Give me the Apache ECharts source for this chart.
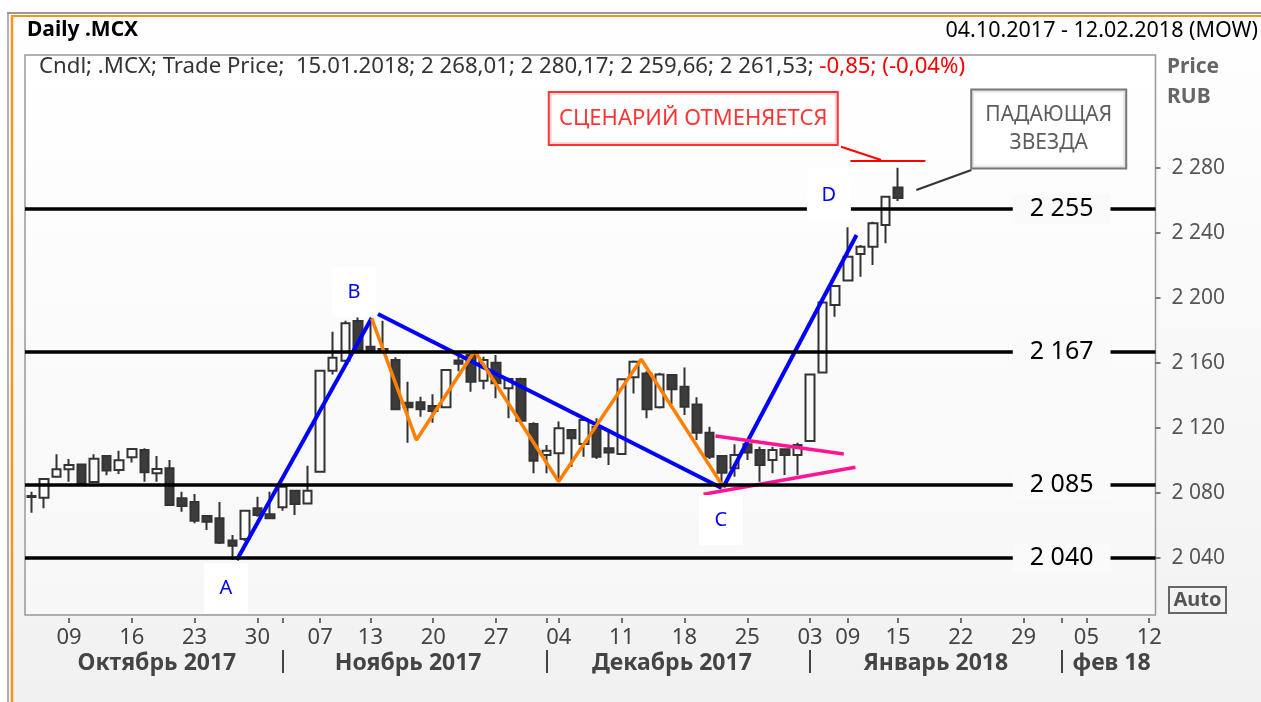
<!DOCTYPE html>
<html>
<head>
<meta charset="utf-8">
<title>Daily .MCX</title>
<script src="https://cdn.jsdelivr.net/npm/echarts@6/dist/echarts.min.js"></script>
<style>
  html, body { margin: 0; padding: 0; background: #fff; }
  #chart { width: 1261px; height: 702px; }
</style>
</head>
<body>
<div id="chart"></div>
<script>
// trading days, 04.10.2017 - 12.02.2018
const octDays = [4, 5, 6, 9, 10, 11, 12, 13, 16, 17, 18, 19, 20, 23, 24, 25, 26, 27, 30, 31];
const novDays = [1, 2, 3, 7, 8, 9, 10, 13, 14, 15, 16, 17, 20, 21, 22, 23, 24, 27, 28, 29, 30];
const decDays = [1, 4, 5, 6, 7, 8, 11, 12, 13, 14, 15, 18, 19, 20, 21, 22, 25, 26, 27, 28, 29];
const janDays = [3, 4, 5, 9, 10, 11, 12, 15, 16, 17, 18, 19, 22, 23, 24, 25, 26, 29, 30, 31];
const febDays = [1, 2, 5, 6, 7, 8, 9, 12];

const pad = d => (d < 10 ? '0' : '') + d;
const categories = [];
[[octDays, '10'], [novDays, '11'], [decDays, '12'], [janDays, '01'], [febDays, '02']]
  .forEach(([days, m]) => days.forEach(d => categories.push(pad(d) + '.' + m)));

// open, close, low, high
const candles = [
  [2078.2, 2077.6, 2067.9, 2080.8], [2077.1, 2088.6, 2070.6, 2089.0], [2090.0, 2094.6, 2089.5, 2103.8],
  [2094.6, 2097.2, 2087.0, 2100.9], [2097.6, 2086.0, 2084.3, 2098.0], [2086.8, 2101.1, 2086.2, 2103.8],
  [2102.8, 2093.8, 2090.9, 2103.2], [2094.2, 2100.2, 2091.7, 2106.0], [2102.0, 2107.1, 2098.7, 2107.5],
  [2106.5, 2092.7, 2087.0, 2107.5], [2092.1, 2094.8, 2087.0, 2102.8], [2095.2, 2072.6, 2072.0, 2100.3],
  [2076.7, 2072.0, 2068.5, 2080.8], [2074.5, 2063.0, 2061.4, 2079.4], [2065.8, 2062.3, 2057.2, 2066.4],
  [2064.4, 2049.4, 2048.6, 2074.5], [2050.7, 2047.6, 2038.8, 2054.2], [2051.7, 2069.1, 2050.5, 2069.5],
  [2070.6, 2066.5, 2065.4, 2077.7], [2066.9, 2064.4, 2064.0, 2080.8], [2071.2, 2083.9, 2069.1, 2085.6],
  [2081.4, 2073.2, 2066.5, 2082.0], [2073.6, 2081.4, 2073.0, 2096.8], [2093.1, 2155.3, 2092.5, 2155.8],
  [2155.3, 2163.3, 2153.0, 2179.3], [2161.4, 2184.4, 2160.5, 2186.0], [2185.8, 2168.0, 2167.5, 2188.0],
  [2170.0, 2168.0, 2167.5, 2187.5], [2168.6, 2167.8, 2167.0, 2186.0], [2161.8, 2131.5, 2131.0, 2163.5],
  [2135.6, 2132.7, 2111.0, 2148.5], [2135.8, 2131.5, 2127.0, 2139.3], [2133.5, 2130.5, 2123.3, 2140.7],
  [2132.7, 2155.7, 2132.2, 2156.2], [2161.5, 2159.5, 2155.0, 2166.0], [2164.9, 2148.5, 2142.3, 2167.0],
  [2149.1, 2161.8, 2143.8, 2163.9], [2160.2, 2147.5, 2138.3, 2164.9], [2144.4, 2150.2, 2126.0, 2151.0],
  [2150.2, 2124.5, 2124.0, 2151.0], [2122.5, 2099.9, 2092.1, 2123.5], [2103.4, 2106.0, 2092.1, 2109.5],
  [2104.4, 2119.8, 2088.0, 2124.0], [2118.8, 2113.7, 2096.2, 2119.3], [2110.2, 2124.9, 2102.3, 2125.5],
  [2120.8, 2102.3, 2101.0, 2126.0], [2107.5, 2105.0, 2097.2, 2117.7], [2104.0, 2150.0, 2103.5, 2150.5],
  [2151.2, 2160.8, 2141.3, 2161.5], [2153.6, 2131.5, 2126.0, 2155.0], [2132.7, 2153.0, 2132.0, 2154.0],
  [2152.6, 2143.8, 2134.8, 2153.0], [2145.4, 2133.1, 2128.0, 2157.3], [2134.5, 2117.1, 2112.6, 2138.9],
  [2117.1, 2102.3, 2101.0, 2120.8], [2102.8, 2092.5, 2083.0, 2103.2], [2095.2, 2103.4, 2090.0, 2110.0],
  [2110.0, 2105.0, 2100.3, 2111.0], [2106.5, 2097.2, 2087.0, 2108.5], [2100.3, 2106.5, 2092.1, 2108.5],
  [2106.9, 2103.4, 2091.1, 2107.3], [2103.4, 2109.5, 2091.0, 2111.0], [2112.0, 2153.0, 2111.5, 2153.5],
  [2154.1, 2197.3, 2153.5, 2198.0], [2195.7, 2207.4, 2188.5, 2208.0], [2210.7, 2225.4, 2210.2, 2243.5],
  [2227.1, 2231.6, 2213.1, 2232.6], [2231.6, 2246.0, 2220.3, 2247.0], [2244.9, 2262.38, 2233.7, 2262.8],
  [2268.01, 2261.53, 2259.66, 2280.17]
];

const dayTicks = ['09.10', '16.10', '23.10', '30.10', '07.11', '13.11', '20.11', '27.11', '04.12', '11.12',
  '18.12', '25.12', '03.01', '09.01', '15.01', '22.01', '29.01', '05.02', '12.02'];
const monthStarts = ['01.11', '01.12', '03.01', '01.02'];
const monthNames = { '18.10': 'Октябрь 2017', '16.11': 'Ноябрь 2017', '15.12': 'Декабрь 2017', '18.01': 'Январь 2018', '07.02': 'фев 18' };

const yTicks = [2040, 2080, 2120, 2160, 2200, 2240, 2280];
const levels = [2255, 2167, 2085, 2040];
const lastClose = 2261.53;

// hand drawn lines, x = bar index
const blueAB = [[16.36, 2038.8], [27.1, 2187.7]];
const blueBC = [[27.6, 2190.2], [54.95, 2083.1]];
const blueCD = [[55.1, 2083.7], [65.7, 2238.8]];
const orangeZigzag = [[27.1, 2187.5], [30.66, 2112.6], [35.3, 2167.4], [41.98, 2087.1], [48.56, 2162.3], [55.13, 2083.3]];
const pinkUpper = [[54.47, 2115.1], [64.68, 2104.0]];
const pinkLower = [[53.52, 2079.2], [65.61, 2095.8]];
const redLeader = [[64.47, 2293.1], [67.65, 2284.9]];
const redMark = [[65.21, 2284.3], [71.18, 2284.3]];
const grayLeader = [[70.46, 2266.5], [74.84, 2278.8]];

const pointLabels = [['A', 15.5, 2021.5], ['B', 25.7, 2203.7], ['C', 54.9, 2063.4], ['D', 63.5, 2263.4]];
const warnNote = ['СЦЕНАРИЙ ОТМЕНЯЕТСЯ', 52.7, 2310.5];
const starNote = ['ПАДАЮЩАЯ\nЗВЕЗДА', 81.0, 2304.0];

const fmtNum = (v, dec) => {
  const s = v.toFixed(dec).split('.');
  return s[0].replace(/\B(?=(\d{3})+(?!\d))/g, ' ') + (s[1] ? ',' + s[1] : '');
};

const FONT = 'Noto Sans';
const NARROW = '"Liberation Sans Narrow", "Noto Sans"';

const seg = (data, color, width, z) => ({
  type: 'line', xAxisIndex: 2, yAxisIndex: 0, data: data, symbol: 'none', silent: true,
  lineStyle: { color: color, width: width }, z: z
});

// note box: the label itself carries the frame
const note = (item, w, h, color, border, size) => ({
  name: item[0], value: [item[1], item[2]],
  label: { show: true, position: 'inside', formatter: '{b}', color: color, fontSize: size, lineHeight: 28,
    width: w, height: h, align: 'center', verticalAlign: 'middle',
    backgroundColor: '#ffffff', borderColor: border, borderWidth: 2 }
});

const chart = echarts.init(document.getElementById('chart'));

chart.setOption({
  animation: false,
  backgroundColor: {
    type: 'linear', x: 0, y: 0, x2: 0, y2: 1,
    colorStops: [{ offset: 0, color: '#ffffff' }, { offset: 1, color: '#f1f1f1' }]
  },
  textStyle: { fontFamily: FONT },
  title: [
    { text: 'Daily .MCX', left: 27, top: 20, padding: 0,
      textStyle: { fontSize: 21, fontWeight: 'bold', color: '#000' } },
    { text: '04.10.2017 - 12.02.2018 (MOW)', right: 3, top: 20, padding: 0,
      textStyle: { fontSize: 21.5, fontWeight: 'normal', color: '#000' } },
    { text: '{a|Cndl; .MCX; Trade Price;  15.01.2018; 2 268,01; 2 280,17; 2 259,66; 2 261,53; }{r|-0,85; (-0,04%)}',
      left: 39, top: 56, padding: 0,
      textStyle: { fontWeight: 'normal', rich: {
        a: { fontSize: 22.2, color: '#333', fontWeight: 'normal' },
        r: { fontSize: 22.2, color: '#ff0000', fontWeight: 'normal' } } } },
    { text: 'Price\nRUB', left: 1167, top: 52, padding: 0,
      textStyle: { fontSize: 21, fontWeight: 'bold', color: '#666', lineHeight: 30 } }
  ],
  grid: { left: 25, right: 105.5, top: 38, bottom: 79 },
  xAxis: [
    {
      type: 'category', data: categories, boundaryGap: true,
      axisLine: { show: false, onZero: false },
      axisTick: { show: true, inside: true, length: 5, alignWithLabel: true,
        interval: (i, v) => dayTicks.includes(v) || monthStarts.includes(v),
        lineStyle: { color: '#444', width: 1.5 } },
      axisLabel: { interval: (i, v) => dayTicks.includes(v), formatter: v => v.slice(0, 2),
        color: '#444', fontSize: 22, fontFamily: NARROW, margin: 4 },
      splitLine: { show: false }
    },
    {
      type: 'category', data: categories, boundaryGap: true, position: 'bottom', offset: 27,
      axisLine: { show: false, onZero: false },
      axisTick: { show: true, alignWithLabel: true, length: 23,
        interval: (i, v) => monthStarts.includes(v),
        lineStyle: { color: '#444', width: 2 } },
      axisLabel: { interval: (i, v) => v in monthNames, formatter: v => monthNames[v] || '',
        color: '#444', fontSize: 23, fontWeight: 'bold', margin: 2 },
      splitLine: { show: false }
    },
    { type: 'value', min: -0.5, max: categories.length - 0.5, show: false }
  ],
  yAxis: {
    type: 'value', position: 'right', min: 2000, max: 2360, interval: 40,
    axisLine: { show: false, onZero: false },
    axisTick: { show: true, length: 5, customValues: yTicks, lineStyle: { color: '#555', width: 1.5 } },
    axisLabel: { customValues: yTicks, formatter: v => fmtNum(v, 0), color: '#555', fontSize: 21, margin: 16 },
    splitLine: { show: false }
  },
  series: [
    {
      type: 'candlestick', name: '.MCX', data: candles, barWidth: 9, z: 2,
      itemStyle: { color: '#fafafa', color0: '#3c3c3c', borderColor: '#333', borderColor0: '#333', borderWidth: 2 },
      markLine: {
        silent: true, symbol: ['none', 'none'],
        lineStyle: { color: '#000', width: 3.5, type: 'solid' },
        label: { position: 'insideEnd', distance: 45, fontSize: 25, color: '#000',
          backgroundColor: '#fafafa', padding: [2, 17] },
        data: levels.map(v => ({ yAxis: v, label: { formatter: fmtNum(v, 0) } })).concat([{
          yAxis: lastClose, lineStyle: { width: 0, opacity: 0 },
          label: { position: 'end', distance: 1, backgroundColor: '#333', color: '#fff', fontWeight: 'bold',
            fontSize: 20, padding: [2, 9], formatter: fmtNum(lastClose, 2) }
        }])
      }
    },
    seg(blueAB, '#0000ff', 4, 3),
    seg(blueBC, '#0000ff', 4, 3),
    seg(blueCD, '#0000ff', 4, 3),
    seg(orangeZigzag, '#ff8000', 3.5, 3),
    seg(pinkUpper, '#ff1493', 3.5, 3),
    seg(pinkLower, '#ff1493', 3.5, 3),
    seg(redLeader, '#ff0000', 2, 3),
    seg(redMark, '#ff0000', 2, 3),
    seg(grayLeader, '#333', 2, 3),
    {
      type: 'scatter', xAxisIndex: 2, yAxisIndex: 0, silent: true, z: 5,
      symbol: 'rect', symbolSize: [44, 50],
      itemStyle: { color: '#ffffff', opacity: 1 },
      label: { show: true, position: 'inside', formatter: '{b}', color: '#0000ff', fontSize: 20 },
      data: pointLabels.map(p => ({ name: p[0], value: [p[1], p[2]] }))
    },
    {
      type: 'scatter', xAxisIndex: 2, yAxisIndex: 0, silent: true, z: 5,
      symbol: 'circle', symbolSize: 1, itemStyle: { color: 'rgba(0,0,0,0)' },
      data: [
        note(warnNote, 287, 51, '#ff0000', '#ff0000', 22),
        note(starNote, 153, 77, '#333', '#555', 21)
      ]
    }
  ],
  graphic: [
    { type: 'rect', z: -10, silent: true, shape: { x: 25, y: 55, width: 1130.5, height: 560 },
      style: { fill: { type: 'linear', x: 0, y: 0, x2: 0, y2: 1,
        colorStops: [{ offset: 0, color: '#ffffff' }, { offset: 1, color: '#f7f7f7' }] },
        stroke: '#999', lineWidth: 1.5 } },
    { type: 'rect', z: -5, silent: true, shape: { x: 0, y: 0, width: 1261, height: 12 }, style: { fill: '#ffffff' } },
    { type: 'rect', z: -5, silent: true, shape: { x: 0, y: 0, width: 7, height: 702 }, style: { fill: '#ffffff' } },
    { type: 'line', silent: true, shape: { x1: 7, y1: 13, x2: 1261, y2: 13 }, style: { stroke: '#9a9a9a', lineWidth: 2 } },
    { type: 'line', silent: true, shape: { x1: 11, y1: 16, x2: 1261, y2: 16 }, style: { stroke: '#f7941d', lineWidth: 2 } },
    { type: 'line', silent: true, shape: { x1: 8, y1: 13, x2: 8, y2: 702 }, style: { stroke: '#9a9a9a', lineWidth: 1.5 } },
    { type: 'line', silent: true, shape: { x1: 12, y1: 16, x2: 12, y2: 702 }, style: { stroke: '#f7941d', lineWidth: 2.5 } },
    { type: 'rect', silent: true, shape: { x: 1169, y: 587, width: 57, height: 26 },
      style: { fill: 'transparent', stroke: '#666', lineWidth: 2 } },
    { type: 'text', silent: true, x: 1197.5, y: 600,
      style: { text: 'Auto', fontSize: 20, fontWeight: 'bold', fill: '#555', fontFamily: FONT, align: 'center', verticalAlign: 'middle' } }
  ]
});
</script>
</body>
</html>
